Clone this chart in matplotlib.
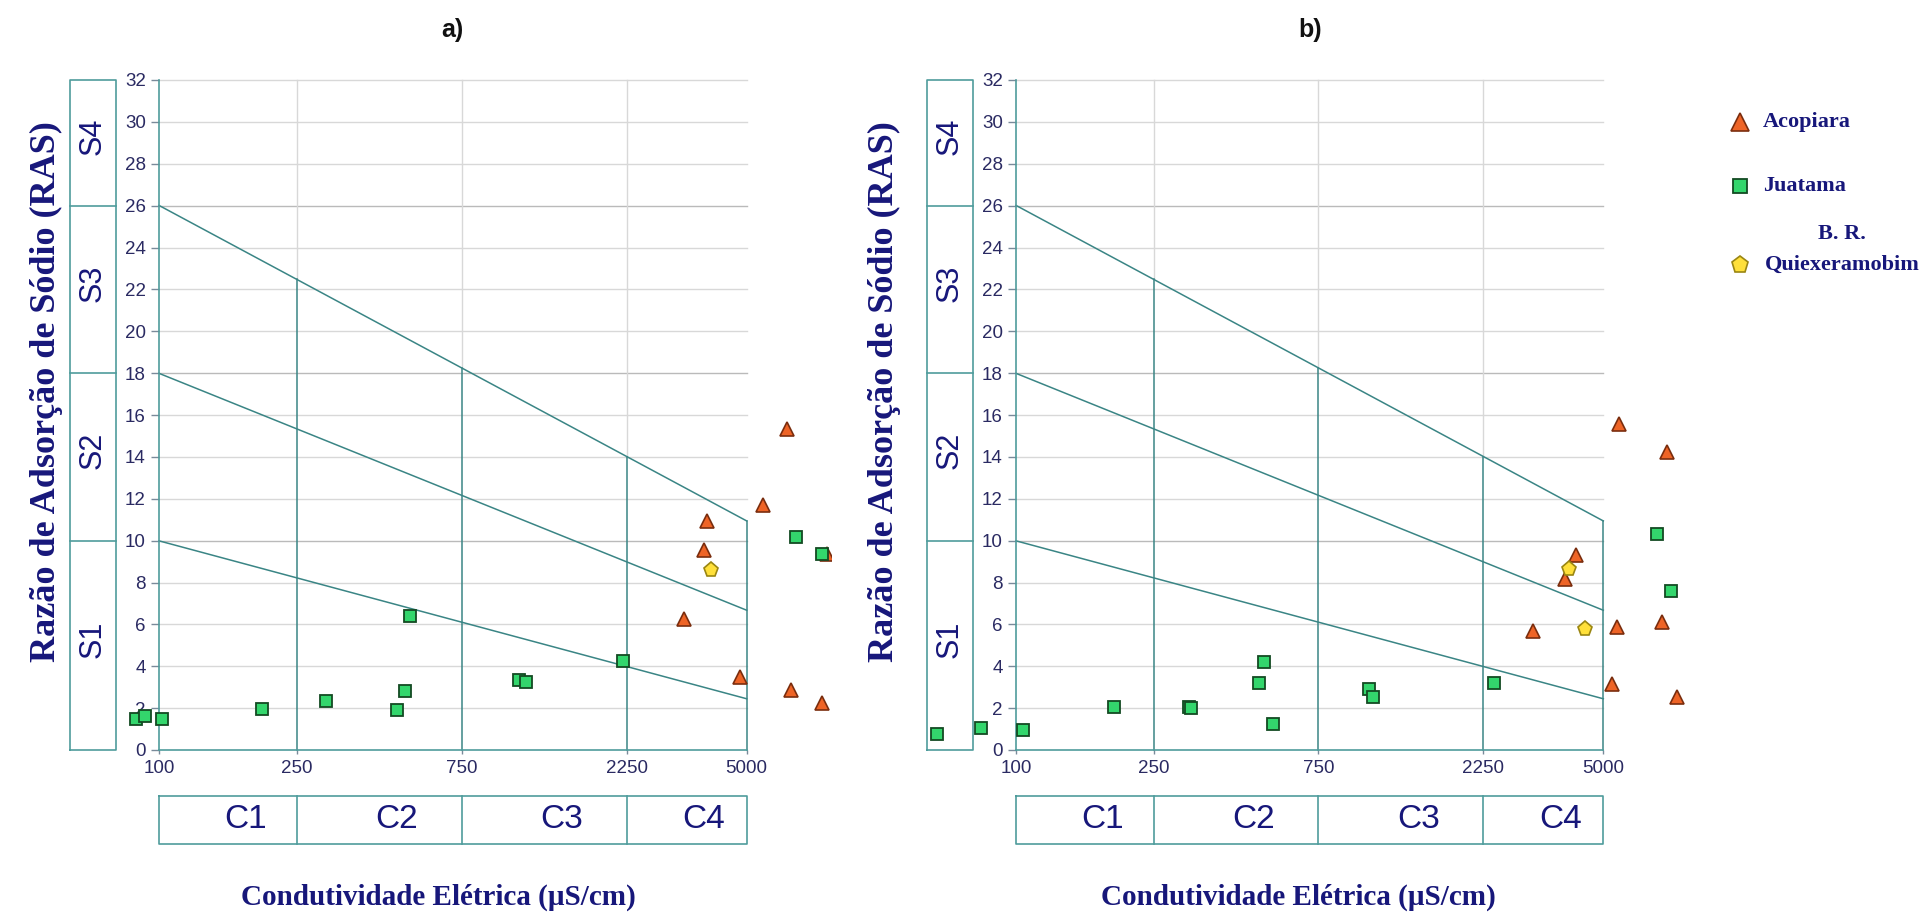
import numpy as np
import matplotlib
matplotlib.use("Agg")
import matplotlib.pyplot as plt
from matplotlib.transforms import blended_transform_factory
from matplotlib.ticker import NullLocator

# ---------------- data ----------------
ec_ticks = [100, 250, 750, 2250, 5000]
ras_ticks = list(range(0, 33, 2))
c_labels = ["C1", "C2", "C3", "C4"]
s_labels = ["S1", "S2", "S3", "S4"]
s_breaks = [0, 10, 18, 26, 32]
# Richards boundaries: RAS = a - b * log10(CE)
bound_a = [18.87, 31.31, 43.75]
bound_b = [4.44, 6.66, 8.87]

acopiara_a_ec = [3290, 3760, 3850, 4780, 5580, 6550, 6700, 8270, 8550]
acopiara_a_ras = [6.27, 9.57, 10.93, 3.50, 11.72, 15.35, 2.86, 2.26, 9.36]
juatama_a_ec = [86, 91, 102, 199, 304, 486, 513, 530, 1098, 1147, 2190, 6940, 8270]
juatama_a_ras = [1.47, 1.64, 1.47, 1.95, 2.36, 1.91, 2.82, 6.38, 3.33, 3.24, 4.27, 10.18, 9.36]
quix_a_ec = [3950]
quix_a_ras = [8.61]

acopiara_b_ec = [3137, 3864, 4175, 5300, 5496, 5556, 7413, 7644, 8170]
acopiara_b_ras = [5.68, 8.19, 9.31, 3.14, 5.86, 15.58, 6.11, 14.24, 2.55]
juatama_b_ec = [59, 79, 105, 192, 316, 320, 505, 521, 553, 1049, 1078, 2414, 7150, 7870]
juatama_b_ras = [0.78, 1.03, 0.95, 2.07, 2.06, 1.99, 3.21, 4.18, 1.24, 2.91, 2.55, 3.21, 10.33, 7.61]
quix_b_ec = [3981, 4440]
quix_b_ras = [8.64, 5.76]

series_names = ["Acopiara", "Juatama", "B. R.\nQuiexeramobim"]
xlabel = "Condutividade Elétrica (µS/cm)"
ylabel = "Razão de Adsorção de Sódio (RAS)"
titles = ["a)", "b)"]

# ---------------- style ----------------
W, H = 1926, 918
NAVY = "#17177a"
TICKC = "#2a2a62"
TEAL = "#3a8585"
BOXC = "#4f9c9c"
GRID = "#d8d8d8"
GRID_D = "#bababa"
NARROW = ["Liberation Sans Narrow", "Liberation Sans", "DejaVu Sans"]
SANS = ["Liberation Sans", "DejaVu Sans"]
SERIF = ["Liberation Serif", "DejaVu Serif"]

styles = {
    "Acopiara": dict(marker="^", ms=10, mfc="#ee6426", mec="#7a2d0e", mew=1.2),
    "Juatama": dict(marker="s", ms=9, mfc="#33d66c", mec="#134a22", mew=1.3),
    "Quix": dict(marker="p", ms=11, mfc="#ffe03a", mec="#9a8612", mew=1.2),
}

fig = plt.figure(figsize=(W / 100, H / 100), dpi=100)
fig.patch.set_facecolor("white")

Y0, Y32 = 750.0, 80.0
panels = [
    dict(x100=159.0, x5000=746.7, left=50.0, right=831.0, tx=452, ylx=46, xlx=438,
         data=[(acopiara_a_ec, acopiara_a_ras, "Acopiara"),
               (juatama_a_ec, juatama_a_ras, "Juatama"),
               (quix_a_ec, quix_a_ras, "Quix")]),
    dict(x100=1016.0, x5000=1603.3, left=907.0, right=1688.0, tx=1310, ylx=884, xlx=1298,
         data=[(acopiara_b_ec, acopiara_b_ras, "Acopiara"),
               (juatama_b_ec, juatama_b_ras, "Juatama"),
               (quix_b_ec, quix_b_ras, "Quix")]),
]

def top_line(e):
    return bound_a[2] - bound_b[2] * np.log10(e)

for k, p in enumerate(panels):
    dec = (p["x5000"] - p["x100"]) / np.log10(ec_ticks[-1] / ec_ticks[0])
    xmin = 100 * 10 ** (-(p["x100"] - p["left"]) / dec)
    xmax = 100 * 10 ** ((p["right"] - p["x100"]) / dec)
    ax = fig.add_axes([p["left"] / W, 1 - Y0 / H, (p["right"] - p["left"]) / W, (Y0 - Y32) / H])
    ax.set_xscale("log")
    ax.set_xlim(xmin, xmax)
    ax.set_ylim(0, 32)
    ax.patch.set_alpha(0)
    for s in ["top", "right"]:
        ax.spines[s].set_visible(False)
    ax.spines["left"].set_position(("data", 100))
    ax.spines["left"].set_bounds(0, 32)
    ax.spines["bottom"].set_bounds(100, 5000)
    for s in ["left", "bottom"]:
        ax.spines[s].set_color(BOXC)
        ax.spines[s].set_linewidth(1.2)
    ax.set_yticks(ras_ticks)
    ax.set_yticklabels([str(v) for v in ras_ticks])
    ax.set_xticks(ec_ticks)
    ax.set_xticklabels([str(v) for v in ec_ticks])
    ax.xaxis.set_minor_locator(NullLocator())
    ax.tick_params(axis="y", length=6, width=1, color="#7a8a9a", pad=3.5,
                   labelsize=13.5, labelcolor=TICKC)
    ax.tick_params(axis="x", length=3, width=1, color="#7a8a9a", pad=4.5,
                   labelsize=13.5, labelcolor=TICKC)
    for lab in ax.get_xticklabels() + ax.get_yticklabels():
        lab.set_family(NARROW)

    # horizontal grid
    for y in ras_ticks[1:]:
        c = GRID_D if y in s_breaks[1:4] else GRID
        ax.plot([100, 5000], [y, y], color=c, lw=1.0, zorder=1, clip_on=False)
    # vertical grid above top boundary, teal below
    for e in ec_ticks[1:4]:
        ax.plot([e, e], [top_line(e), 32], color=GRID, lw=1.0, zorder=1, clip_on=False)
    for e in ec_ticks[1:]:
        ax.plot([e, e], [0, top_line(e)], color=TEAL, lw=1.1, zorder=2, clip_on=False)
    # diagonal boundaries
    for a, b in zip(bound_a, bound_b):
        ex = np.array([100, 5000])
        ax.plot(ex, a - b * np.log10(ex), color=TEAL, lw=1.1, zorder=2, clip_on=False)

    # S boxes (left)
    span = p["right"] - p["left"]
    f0 = (p["x100"] - 89 - p["left"]) / span
    f1 = (p["x100"] - 43 - p["left"]) / span
    tr = blended_transform_factory(ax.transAxes, ax.transData)
    ax.plot([f0, f1, f1, f0, f0], [0, 0, 32, 32, 0], color=BOXC, lw=1.2, transform=tr, clip_on=False)
    for yb in s_breaks[1:4]:
        ax.plot([f0, f1], [yb, yb], color=BOXC, lw=1.2, transform=tr, clip_on=False)
    for i, lab in enumerate(s_labels):
        ym = (s_breaks[i] + s_breaks[i + 1]) / 2 + 0.3
        ax.text((f0 + f1) / 2, ym, lab, rotation=90, ha="center", va="center",
                fontsize=22, color=NAVY, family=SANS, transform=tr)

    # C boxes (bottom)
    trx = ax.get_xaxis_transform()
    c0 = -(796 - Y0) / (Y0 - Y32)
    c1 = -(844 - Y0) / (Y0 - Y32)
    ax.plot([100, 5000, 5000, 100, 100], [c0, c0, c1, c1, c0], color=BOXC, lw=1.2,
            transform=trx, clip_on=False)
    for e in ec_ticks[1:4]:
        ax.plot([e, e], [c0, c1], color=BOXC, lw=1.2, transform=trx, clip_on=False)
    for i, lab in enumerate(c_labels):
        xm = np.sqrt(ec_ticks[i] * ec_ticks[i + 1]) * 10 ** 0.05
        ax.text(xm, (c0 + c1) / 2, lab, ha="center", va="center", fontsize=24,
                color=NAVY, family=NARROW, transform=trx)

    # points
    for ex, ry, name in p["data"]:
        ax.plot(ex, ry, linestyle="none", zorder=5, **styles[name])

# overlay axes in pixel coordinates for titles, labels and legend
lax = fig.add_axes([0, 0, 1, 1])
lax.set_xlim(0, W)
lax.set_ylim(H, 0)
lax.axis("off")
lax.patch.set_alpha(0)
for k, p in enumerate(panels):
    lax.text(p["tx"], 30, titles[k], ha="center", va="center", fontsize=18,
             fontweight="bold", family=NARROW, color="#111111")
    lax.text(p["ylx"], 392, ylabel, rotation=90, ha="center", va="center",
             fontsize=26, fontweight="bold", family=SERIF, color=NAVY)
    lax.text(p["xlx"], 897, xlabel, ha="center", va="center", fontsize=21,
             fontweight="bold", family=SERIF, color=NAVY)

# legend
leg_items = [("Acopiara", 122), ("Juatama", 186), ("Quix", 265)]
leg_ms = {"Acopiara": 13, "Juatama": 10, "Quix": 12.5}
for (key, y), name in zip(leg_items, series_names):
    st = dict(styles[key])
    st["ms"] = leg_ms[key]
    lax.plot([1740], [y], linestyle="none", **st)
    if key == "Quix":
        first, second = name.split("\n")
        lax.text(1842, 234, first, ha="center", va="center", fontsize=16,
                 fontweight="bold", family=SERIF, color=NAVY)
        lax.text(1765, y, second, ha="left", va="center", fontsize=16,
                 fontweight="bold", family=SERIF, color=NAVY)
    else:
        lax.text(1763, y, name, ha="left", va="center", fontsize=16,
                 fontweight="bold", family=SERIF, color=NAVY)

fig.savefig("out.png", dpi=100, facecolor="white")
